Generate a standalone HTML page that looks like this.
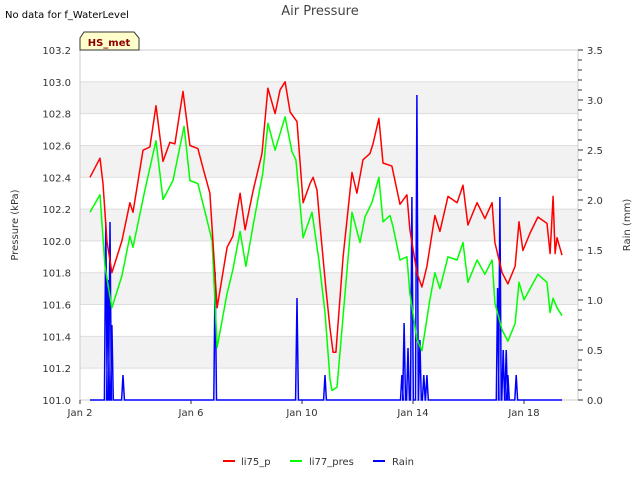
<!DOCTYPE html>
<html><head><meta charset="utf-8"><style>
body{margin:0;background:#fff;font-family:"Liberation Sans",sans-serif}
svg text{font-family:"DejaVu Sans","Liberation Sans",sans-serif}
</style></head><body>
<svg id="c" width="640" height="480" xmlns="http://www.w3.org/2000/svg">
<text x="5" y="18" font-size="10" fill="#000">No data for f_WaterLevel</text>
<text x="320" y="15" font-size="13" fill="#444" text-anchor="middle">Air Pressure</text>
<g id="bands"></g>
<g id="grid"></g>
<rect x="80" y="50" width="498" height="350" fill="none" stroke="#ccc"/>
<g id="yl"></g>
<g id="yr"></g>
<g id="xa"></g>
<g id="series"></g>
<path d="M80,50 V38 L84,32 H134 L139,38 V50 Z" fill="#ffffcc" stroke="#333"/>
<text x="109" y="46" font-size="10" font-weight="bold" fill="#8b0000" text-anchor="middle">HS_met</text>
<text transform="translate(18,225) rotate(-90)" font-size="10" fill="#333" text-anchor="middle">Pressure (kPa)</text>
<text transform="translate(630,225) rotate(-90)" font-size="10" fill="#333" text-anchor="middle">Rain (mm)</text>
<g>
<g><line x1="223" y1="461" x2="235" y2="461" stroke="#f00" stroke-width="2"/><text x="241" y="465" font-size="10" fill="#333">li75_p</text></g>
<g><line x1="290" y1="461" x2="302" y2="461" stroke="#0f0" stroke-width="2"/><text x="309" y="465" font-size="10" fill="#333">li77_pres</text></g>
<g><line x1="373" y1="461" x2="385" y2="461" stroke="#00f" stroke-width="2"/><text x="392" y="465" font-size="10" fill="#333">Rain</text></g>
</g>
</svg>
<script>
const redDays=[0.36,0.72,0.83,0.97,1.15,1.33,1.51,1.80,1.91,2.27,2.52,2.74,2.99,3.24,3.42,3.71,3.96,4.25,4.43,4.68,4.94,5.30,5.51,5.77,5.95,6.23,6.56,6.77,7.03,7.21,7.39,7.57,7.82,8.04,8.29,8.40,8.54,8.65,8.86,9.01,9.12,9.22,9.48,9.80,9.98,10.20,10.45,10.56,10.77,10.92,11.24,11.53,11.78,11.89,12.14,12.32,12.50,12.79,12.97,13.26,13.59,13.80,13.98,14.31,14.59,14.85,14.95,15.21,15.42,15.68,15.82,15.96,16.22,16.50,16.83,16.94,17.05,17.12,17.19,17.37];
const redVals=[102.40,102.52,102.36,102.0,101.80,101.90,102.0,102.24,102.18,102.57,102.59,102.85,102.50,102.62,102.61,102.94,102.60,102.58,102.46,102.30,101.58,101.96,102.03,102.30,102.07,102.31,102.55,102.96,102.80,102.95,103.0,102.81,102.75,102.24,102.36,102.40,102.32,102.10,101.70,101.45,101.30,101.30,101.90,102.43,102.30,102.51,102.55,102.61,102.77,102.49,102.47,102.23,102.29,102.07,101.80,101.71,101.84,102.16,102.06,102.28,102.24,102.35,102.10,102.24,102.14,102.24,101.99,101.80,101.73,101.84,102.12,101.94,102.05,102.15,102.11,101.92,102.28,101.92,102.02,101.91];
const greenDays=[0.36,0.72,0.90,1.15,1.51,1.80,1.91,2.34,2.74,2.99,3.35,3.75,3.96,4.25,4.58,4.76,4.94,5.30,5.51,5.77,5.98,6.23,6.59,6.77,7.03,7.39,7.64,7.78,8.04,8.36,8.61,8.83,9.01,9.08,9.26,9.80,10.09,10.27,10.52,10.77,10.92,11.17,11.28,11.53,11.78,11.89,12.14,12.32,12.61,12.79,12.97,13.26,13.59,13.80,13.98,14.31,14.59,14.85,14.95,15.21,15.42,15.68,15.82,16.0,16.22,16.50,16.83,16.94,17.05,17.19,17.37];
const greenVals=[102.18,102.29,101.84,101.58,101.78,102.03,101.96,102.32,102.63,102.26,102.38,102.72,102.38,102.36,102.13,102.0,101.33,101.67,101.82,102.06,101.84,102.09,102.43,102.74,102.57,102.78,102.56,102.51,102.02,102.18,101.88,101.55,101.13,101.06,101.08,102.18,101.99,102.15,102.24,102.40,102.12,102.16,102.09,101.88,101.90,101.67,101.38,101.31,101.63,101.80,101.70,101.90,101.88,101.99,101.74,101.88,101.79,101.88,101.61,101.44,101.37,101.48,101.74,101.63,101.70,101.79,101.74,101.55,101.64,101.58,101.53];
const rainDays=[0.93,1.01,1.08,1.15,1.55,4.87,7.82,8.83,11.60,11.68,11.82,11.96,12.14,12.25,12.39,12.50,15.05,15.13,15.25,15.36,15.42,15.72];
const rainVals=[1.78,1.20,1.78,0.75,0.25,1.28,1.02,0.25,0.25,0.77,0.52,2.03,3.05,0.60,0.25,0.25,1.12,2.03,0.50,0.50,0.25,0.25];
const rainStart=0.36, rainEnd=17.37;
const leftTicks=["101.0","101.2","101.4","101.6","101.8","102.0","102.2","102.4","102.6","102.8","103.0","103.2"];
const rightTicks=["0.0","0.5","1.0","1.5","2.0","2.5","3.0","3.5"];
const xTickDays=[0,4,8,12,16];
const xTickLabels=["Jan 2","Jan 6","Jan 10","Jan 14","Jan 18"];

const NS="http://www.w3.org/2000/svg";
const X0=80,X1=578,Y0=400,Y1=50;
const xs=d=>X0+d*27.75;
const yL=v=>Y0-(v-101.0)/2.2*(Y0-Y1);
const yR=v=>Y0-v/3.5*(Y0-Y1);
function mk(tag,attrs,parent){const e=document.createElementNS(NS,tag);for(const k in attrs)e.setAttribute(k,attrs[k]);document.getElementById(parent).appendChild(e);return e;}

for(let i=0;i<leftTicks.length;i++){
  const v=parseFloat(leftTicks[i]),y=yL(v);
  if(i<leftTicks.length-1 && i%2==1){
    const b=mk('rect',{x:X0,y:yL(v+0.2),width:X1-X0,height:y-yL(v+0.2),fill:'#f2f2f2'},'bands');
    
    
  }
  const g=mk('line',{x1:X0,x2:X1,y1:y,y2:y,stroke:'#ddd'},'grid');
  
  
  const t=mk('text',{x:71,y:y+4,'font-size':10,fill:'#333','text-anchor':'end'},'yl');
  t.textContent=leftTicks[i];
  
  
}
for(let k=0;k<=35;k++){
  const y=yR(k/10);
  const m=mk('line',{x1:X1,x2:X1+(k%5==0?5:4),y1:y,y2:y,stroke:'#333'},'yr');
  
  
}
rightTicks.forEach(s=>{
  const t=mk('text',{x:587,y:yR(parseFloat(s))+4,'font-size':10,fill:'#333'},'yr');
  t.textContent=s;
  
  
});
xTickDays.forEach((d,i)=>{
  const x=xs(d);
  const m=mk('line',{x1:x,x2:x,y1:Y0,y2:Y0+4,stroke:'#333'},'xa');
  
  
  const t=mk('text',{x:x,y:416,'font-size':10,fill:'#333','text-anchor':'middle'},'xa');
  t.textContent=xTickLabels[i];
  
  
});
function line(days,vals,fy,color,name){
  const d=days.map((t,i)=>(i?'L':'M')+xs(t).toFixed(1)+','+fy(vals[i]).toFixed(1)).join('');
  const p=mk('path',{d:d,fill:'none',stroke:color,'stroke-width':1.5,'stroke-linejoin':'round'},'series');
  
  
}
let rd='M'+xs(rainStart)+','+yR(0);
rainDays.forEach((t,i)=>{rd+='L'+xs(t-0.05).toFixed(1)+','+yR(0)+'L'+xs(t).toFixed(1)+','+yR(rainVals[i]).toFixed(1)+'L'+xs(t+0.05).toFixed(1)+','+yR(0);});
rd+='L'+xs(rainEnd)+','+yR(0);
const rp=mk('path',{d:rd,fill:'none',stroke:'#00f','stroke-width':1.5},'series');


line(greenDays,greenVals,yL,'#0f0','li77-pres-line');
line(redDays,redVals,yL,'#f00','li75-p-line');
</script>
</body></html>
